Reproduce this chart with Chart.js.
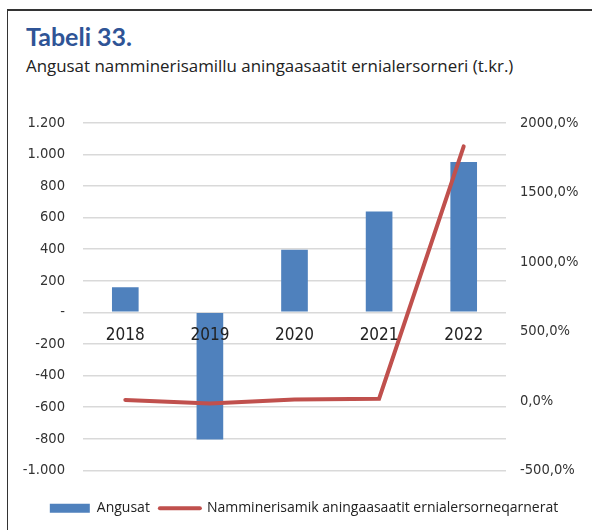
<!DOCTYPE html>
<html>
<head>
<meta charset="utf-8">
<script src="https://cdn.jsdelivr.net/npm/chart.js@4"></script>
<style>
    body { margin: 0; background: #fff; width: 592px; height: 530px; overflow: hidden; position: relative; }
    #frame { position: absolute; left: 7px; top: 9px; width: 600px; height: 540px; border-top: 2px solid #333; border-left: 1.5px solid #333; }
    #title { position: absolute; left: 26px; top: 21px; font-family: Lato, sans-serif; font-weight: bold; font-size: 25px; color: #2F5496; }
    #subtitle { position: absolute; left: 26px; top: 54px; font-family: 'Open Sans', sans-serif; font-size: 16.9px; color: #222; }
    #wrap { position: absolute; left: 0; top: 96px; width: 592px; height: 434px; }
</style>
</head>
<body>
<div id="frame"></div>
<div id="title">Tabeli 33.</div>
<div id="subtitle">Angusat namminerisamillu aningaasaatit ernialersorneri (t.kr.)</div>
<div id="wrap"><canvas id="chart" width="592" height="434"></canvas></div>
<script>
var years = ['2018', '2019', '2020', '2021', '2022'];
var angusat = [158, -805, 396, 638, 952];
var ernialersorneq = [6, -20, 10, 15, 1830];

var axisFont = "'DejaVu Sans Condensed', 'DejaVu Sans', sans-serif";

function thousands(v) {
    if (v == 0) return '-';
    var s = Math.abs(v).toString().replace(/\B(?=(\d{3})+(?!\d))/g, '.');
    return (v < 0 ? '-' : '') + s;
}

var chart = new Chart(document.getElementById('chart'), {
    type: 'bar',
    data: {
        labels: years,
        datasets: [
            {
                label: 'Angusat',
                data: angusat,
                backgroundColor: '#4F81BD',
                barPercentage: 0.315,
                categoryPercentage: 1,
                yAxisID: 'y',
                order: 2
            },
            {
                type: 'line',
                label: 'Namminerisamik aningaasaatit ernialersorneqarnerat',
                data: ernialersorneq,
                borderColor: '#C0504D',
                backgroundColor: '#C0504D',
                borderWidth: 4,
                borderCapStyle: 'round',
                pointRadius: 0,
                tension: 0,
                yAxisID: 'y1',
                order: 1
            }
        ]
    },
    options: {
        responsive: false,
        animation: false,
        layout: { padding: { top: 17.2, bottom: 4.7, left: 16, right: 0 } },
        plugins: {
            tooltip: { enabled: false },
            legend: {
                position: 'bottom',
                title: { display: true, text: '', font: { size: 10, lineHeight: 1 }, padding: { top: 11, bottom: 0 } },
                labels: {
                    usePointStyle: true,
                    pointStyleWidth: 40,
                    boxHeight: 9,
                    padding: 10,
                    color: '#222',
                    font: { family: "'Open Sans', sans-serif", size: 14 },
                    sort: function (a, b) { return a.datasetIndex - b.datasetIndex; },
                    generateLabels: function (c) {
                        var items = Chart.defaults.plugins.legend.labels.generateLabels(c);
                        items.forEach(function (item) {
                            if (item.datasetIndex == 0) {
                                item.pointStyle = 'rect';
                                item.fillStyle = '#4F81BD';
                                item.lineWidth = 0;
                            } else {
                                item.pointStyle = 'line';
                                item.strokeStyle = '#C0504D';
                                item.lineWidth = 4;
                                item.lineCap = 'round';
                            }
                        });
                        return items;
                    }
                }
            }
        },
        scales: {
            x: {
                position: { y: 0 },
                grid: { display: false },
                border: { display: false },
                ticks: { z: 1, color: '#222', padding: 5.5, maxRotation: 0, font: { family: axisFont, size: 17 } },
                afterFit: function (s) { s.height = 0; }
            },
            y: {
                position: 'left',
                min: -1000,
                max: 1200,
                grid: { color: '#d9d9d9', lineWidth: 1.5, drawTicks: false },
                border: { display: false },
                ticks: {
                    stepSize: 200,
                    padding: 18,
                    color: '#333',
                    font: { family: axisFont, size: 14.6 },
                    callback: function (v) { return thousands(v); }
                },
                afterFit: function (s) { s.width = 67; }
            },
            y1: {
                position: 'right',
                min: -500,
                max: 2000,
                grid: { drawOnChartArea: false, drawTicks: false },
                border: { display: false },
                ticks: {
                    stepSize: 500,
                    padding: 14,
                    color: '#333',
                    font: { family: axisFont, size: 14.6 },
                    callback: function (v) { return v.toFixed(1).replace('.', ',') + '%'; }
                },
                afterFit: function (s) { s.width = 86; }
            }
        }
    }
});
</script>
</body>
</html>
